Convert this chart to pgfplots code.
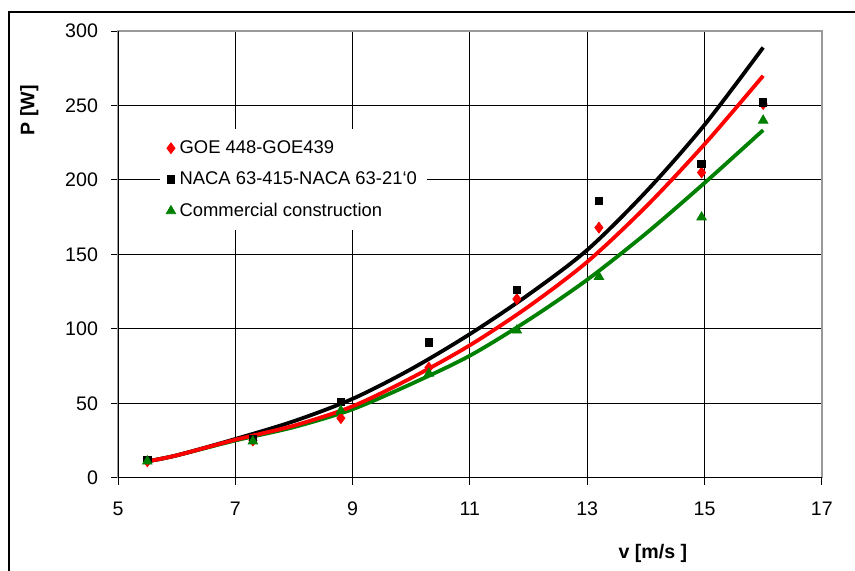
\documentclass[border=0pt]{standalone}
\usepackage{fontspec}
\setmainfont{Liberation Sans}
\usepackage{pgfplots}
\pgfplotsset{compat=1.18}
\definecolor{xlgreen}{RGB}{0,128,0}
\begin{document}
\begin{tikzpicture}[x=1pt,y=1pt]
\useasboundingbox (0,0) rectangle (427.5,285);
\draw[line width=1pt] (4.5,-20) -- (4.5,279) -- (450,279);
\begin{axis}[
  at={(59pt,46.15pt)}, anchor=south west,
  scale only axis, width=351.9pt, height=223.3pt,
  xmin=5, xmax=17, ymin=0, ymax=300,
  xtick={5,7,...,17}, ytick={0,50,...,300},
  grid=major, major grid style={black, line width=0.5pt},
  axis line style={gray!80, line width=0.7pt},
  tick align=outside, major tick length=3.5pt,
  xtick pos=bottom, ytick pos=left,
  tick style={black, line width=0.5pt},
  /pgf/number format/assume math mode=true,
  ticklabel style={font=\fontsize{9.8}{11}\selectfont},
  yticklabel style={xshift=-3pt},
  xticklabel style={yshift=-5pt},
  xlabel={\textbf{v [m/s ]}},
  xlabel style={at={(axis description cs:0.76,-0.169)}, anchor=center, font=\fontsize{9.8}{11}\selectfont},
  ylabel={\textbf{P [W]}},
  ylabel style={at={(axis description cs:-0.126,0.823)}, anchor=center, rotate=0, font=\fontsize{9.8}{11}\selectfont},
  legend style={draw=none, fill=white, inner xsep=3pt, inner ysep=3.5pt, row sep=3.7pt,
    font=\fontsize{9.2}{10.5}\selectfont,
    at={(axis description cs:0.0595,0.781)}, anchor=north west},
  legend cell align=left,
  legend image code/.code={\draw[mark repeat=2,mark phase=2,#1] plot coordinates {(0cm,0cm) (0.1cm,0cm) (0.25cm,0cm)};},
]
\addplot[only marks, mark=diamond*, mark size=2.7pt, color=red] coordinates {
(5.5,11) (7.3,25) (8.8,40) (10.3,74) (11.8,120) (13.2,168) (14.95,205) (16.0,251)};
\addlegendentry{GOE 448-GOE439}
\addplot[only marks, mark=square*, mark size=1.85pt, color=black] coordinates {
(5.5,12) (7.3,26) (8.8,51) (10.3,91) (11.8,126) (13.2,186) (14.95,211) (16.0,252)};
\addlegendentry{NACA 63-415-NACA 63-21\symbol{96}0}
\addplot[only marks, mark=triangle*, mark size=2.7pt, color=xlgreen] coordinates {
(5.5,11) (7.3,24.5) (8.8,45) (10.3,70) (11.8,99) (13.2,135) (14.95,175) (16.0,240)};
\addlegendentry{Commercial construction}
% trend lines
\addplot[forget plot, no marks, smooth, color=xlgreen, line width=1.9pt] coordinates {
(5.5,11) (6,15) (7,25) (8,34) (9,46) (10,63) (11,82) (12,106) (13,133) (14,164) (15,198) (16,233.5)};
\addplot[forget plot, no marks, smooth, color=black, line width=1.9pt] coordinates {
(5.5,11) (6,15) (7,26) (8,38) (9,53) (10,73) (11,96.5) (12,123) (13,153) (14,192) (15,237) (16,289)};
\addplot[forget plot, no marks, smooth, color=red, line width=1.9pt] coordinates {
(5.5,11) (6,15) (7,25.5) (8,35) (9,48) (10,67) (11,89) (12,115) (13,145) (14,182) (15,224) (16,270)};
\draw[black, line width=0.7pt] (rel axis cs:0,1) -- (rel axis cs:0,0) -- (rel axis cs:1,0);
\end{axis}
\end{tikzpicture}
\end{document}
